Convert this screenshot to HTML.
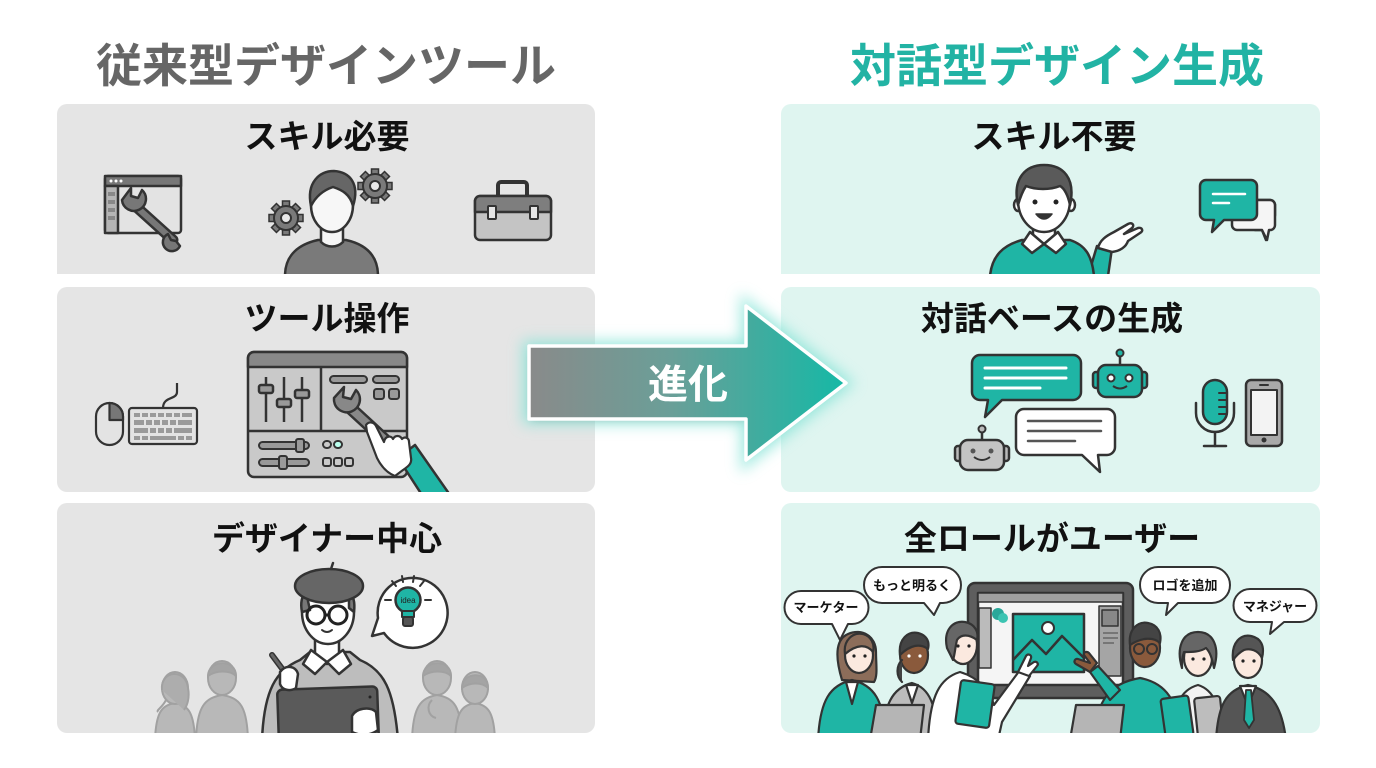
<!DOCTYPE html>
<html><head><meta charset="utf-8">
<style>
html,body{margin:0;padding:0;background:#fff;}
svg{display:block;}
text{font-family:"Liberation Sans","Noto Sans CJK JP",sans-serif;font-weight:700;}
</style></head><body>
<svg width="1376" height="768" viewBox="0 0 1376 768" xmlns="http://www.w3.org/2000/svg">
<defs>
<linearGradient id="ag" x1="527" y1="0" x2="848" y2="0" gradientUnits="userSpaceOnUse">
<stop offset="0" stop-color="#8a8a8a"/><stop offset="0.45" stop-color="#6a9f98"/><stop offset="1" stop-color="#14b9a6"/>
</linearGradient>
<filter id="glow" x="-30%" y="-40%" width="160%" height="180%"><feGaussianBlur stdDeviation="7"/></filter>
<filter id="soft" x="-30%" y="-40%" width="160%" height="180%"><feGaussianBlur stdDeviation="4"/></filter>
<g id="gear">
 <g fill="#7a7a7a" stroke="#333" stroke-width="1.5">
  <rect x="-3.5" y="-17" width="7" height="8"/>
  <rect x="-3.5" y="-17" width="7" height="8" transform="rotate(45)"/>
  <rect x="-3.5" y="-17" width="7" height="8" transform="rotate(90)"/>
  <rect x="-3.5" y="-17" width="7" height="8" transform="rotate(135)"/>
  <rect x="-3.5" y="-17" width="7" height="8" transform="rotate(180)"/>
  <rect x="-3.5" y="-17" width="7" height="8" transform="rotate(225)"/>
  <rect x="-3.5" y="-17" width="7" height="8" transform="rotate(270)"/>
  <rect x="-3.5" y="-17" width="7" height="8" transform="rotate(315)"/>
 </g>
 <circle r="12" fill="#7a7a7a" stroke="#333" stroke-width="2"/>
 <circle r="5" fill="#e8e8e8" stroke="#333" stroke-width="2"/>
</g>
<clipPath id="cl3"><rect x="57" y="503" width="538" height="230" rx="10"/></clipPath>
<clipPath id="cr3"><rect x="781" y="503" width="539" height="230" rx="10"/></clipPath>
<clipPath id="cl1"><rect x="57" y="104" width="538" height="170"/></clipPath>
<clipPath id="cr1"><rect x="781" y="104" width="539" height="170"/></clipPath>
<clipPath id="cl2"><rect x="57" y="287" width="538" height="205" rx="10"/></clipPath>
</defs>

<!-- Titles -->
<text x="326" y="82" font-size="46" fill="#666" text-anchor="middle">従来型デザインツール</text>
<text x="1057" y="82" font-size="46" fill="#22b3a4" text-anchor="middle">対話型デザイン生成</text>

<!-- Panels -->
<path d="M57,114 a10,10 0 0 1 10,-10 H585 a10,10 0 0 1 10,10 V274 H57 Z" fill="#e5e5e5"/>
<rect x="57" y="287" width="538" height="205" rx="10" fill="#e5e5e5"/>
<rect x="57" y="503" width="538" height="230" rx="10" fill="#e5e5e5"/>
<path d="M781,114 a10,10 0 0 1 10,-10 H1310 a10,10 0 0 1 10,10 V274 H781 Z" fill="#dff5f0"/>
<rect x="781" y="287" width="539" height="205" rx="10" fill="#dff5f0"/>
<rect x="781" y="503" width="539" height="230" rx="10" fill="#dff5f0"/>

<!-- Headings -->
<text x="327" y="148" font-size="33" fill="#111" text-anchor="middle">スキル必要</text>
<text x="327" y="330" font-size="33" fill="#111" text-anchor="middle">ツール操作</text>
<text x="327" y="550" font-size="33" fill="#111" text-anchor="middle">デザイナー中心</text>
<text x="1054" y="148" font-size="33" fill="#111" text-anchor="middle">スキル不要</text>
<text x="1052" y="330" font-size="33" fill="#111" text-anchor="middle">対話ベースの生成</text>
<text x="1052" y="550" font-size="33" fill="#111" text-anchor="middle">全ロールがユーザー</text>

<!-- ===== Panel 1 left ===== -->
<g stroke="#333" stroke-width="2.5" stroke-linejoin="round">
 <rect x="105" y="176" width="76" height="57" rx="3" fill="#e3e3e3"/>
 <rect x="105" y="176" width="76" height="10" fill="#777"/>
 <rect x="105" y="186" width="13" height="47" fill="#b5b5b5"/>
</g>
<g fill="#fff"><circle cx="111" cy="181" r="1.5"/><circle cx="116" cy="181" r="1.5"/><circle cx="121" cy="181" r="1.5"/></g>
<g fill="#888"><rect x="108" y="192" width="7" height="4"/><rect x="108" y="200" width="7" height="4"/><rect x="108" y="208" width="7" height="4"/><rect x="108" y="216" width="7" height="4"/></g>
<g>
 <path d="M132,203 L173,240" stroke="#333" stroke-width="11" stroke-linecap="round"/>
 <path d="M132,203 L173,240" stroke="#777" stroke-width="6" stroke-linecap="round"/>
 <path d="M122,200 a12,12 0 1 0 20,-10 l-4,8 l-7,-2 l0,-8 z" fill="#777" stroke="#333" stroke-width="2.5" stroke-linejoin="round"/>
 <path d="M180,246 a9,9 0 1 1 -12,-12 l3,6 l5,1 z" fill="#777" stroke="#333" stroke-width="2.5" stroke-linejoin="round"/>
</g>

<g clip-path="url(#cl1)">
 <use href="#gear" x="375" y="186"/>
 <use href="#gear" x="286" y="218"/>
 <path d="M285,276 C285,254 300,244 318,240 L346,240 C364,244 378,254 378,276 Z" fill="#7a7a7a" stroke="#333" stroke-width="2.5"/>
 <path d="M321,226 h22 v16 c-6,6 -16,6 -22,0 z" fill="#f5f5f5" stroke="#333" stroke-width="2.5"/>
 <ellipse cx="332" cy="205" rx="21" ry="27" fill="#f7f7f7" stroke="#333" stroke-width="2.5"/>
 <path d="M311,206 C306,182 320,171 334,171 C350,172 360,184 353,206 C350,194 342,190 333,187 C324,190 316,196 311,206 Z" fill="#666" stroke="#333" stroke-width="2.5" stroke-linejoin="round"/>
</g>

<g stroke="#333" stroke-linejoin="round">
 <rect x="498" y="182" width="29" height="18" rx="3" fill="none" stroke-width="4"/>
 <rect x="475" y="196" width="76" height="44" rx="5" fill="#c4c4c4" stroke-width="2.5"/>
 <path d="M475,212 V201 a5,5 0 0 1 5,-5 H546 a5,5 0 0 1 5,5 V212 Z" fill="#7e7e7e" stroke-width="2.5"/>
 <rect x="488" y="206" width="8" height="13" rx="1" fill="#e5e5e5" stroke-width="2"/>
 <rect x="530" y="206" width="8" height="13" rx="1" fill="#e5e5e5" stroke-width="2"/>
</g>

<!-- ===== Panel 2 left ===== -->
<g stroke="#333" stroke-width="2.2" stroke-linejoin="round">
 <rect x="96" y="403" width="27" height="42" rx="13.5" fill="#e3e3e3"/>
 <path d="M109.5,403 a13.5,13.5 0 0 1 13.5,13.5 V420 H109.5 Z" fill="#777"/>
 <path d="M163,408 c0,-12 14,-8 14,-16 v-9" fill="none"/>
 <rect x="129" y="408" width="68" height="36" rx="3" fill="#e3e3e3"/>
</g>
<g fill="#9a9a9a">
 <rect x="134" y="413" width="6" height="4"/><rect x="142" y="413" width="6" height="4"/><rect x="150" y="413" width="6" height="4"/><rect x="158" y="413" width="6" height="4"/><rect x="166" y="413" width="6" height="4"/><rect x="174" y="413" width="6" height="4"/><rect x="182" y="413" width="10" height="4"/>
 <rect x="134" y="420" width="10" height="5"/><rect x="146" y="420" width="6" height="5"/><rect x="154" y="420" width="6" height="5"/><rect x="162" y="420" width="6" height="5"/><rect x="170" y="420" width="6" height="5"/><rect x="178" y="420" width="14" height="5"/>
 <rect x="134" y="428" width="14" height="5"/><rect x="150" y="428" width="6" height="5"/><rect x="158" y="428" width="6" height="5"/><rect x="166" y="428" width="6" height="5"/><rect x="174" y="428" width="18" height="5"/>
 <rect x="134" y="436" width="6" height="4"/><rect x="142" y="436" width="6" height="4"/><rect x="150" y="436" width="26" height="4"/><rect x="178" y="436" width="6" height="4"/><rect x="186" y="436" width="6" height="4"/>
</g>

<g stroke="#333" stroke-width="2.5" stroke-linejoin="round">
 <rect x="248" y="352" width="159" height="125" rx="6" fill="#c9c9c9"/>
 <path d="M248,367 V358 a6,6 0 0 1 6,-6 H401 a6,6 0 0 1 6,6 V367 Z" fill="#888"/>
 <line x1="321" y1="367" x2="321" y2="431"/>
 <line x1="248" y1="431" x2="407" y2="431"/>
 <line x1="266" y1="377" x2="266" y2="422"/>
 <line x1="284" y1="377" x2="284" y2="422"/>
 <line x1="302" y1="377" x2="302" y2="422"/>
 <rect x="259" y="385" width="14" height="8" rx="2" fill="#999"/>
 <rect x="277" y="399" width="14" height="8" rx="2" fill="#999"/>
 <rect x="295" y="390" width="14" height="8" rx="2" fill="#999"/>
 <rect x="330" y="376" width="37" height="7" rx="3.5" fill="#999" stroke-width="2"/>
 <rect x="373" y="376" width="26" height="7" rx="3.5" fill="#999" stroke-width="2"/>
 <rect x="374" y="389" width="10" height="10" rx="2.5" fill="#999" stroke-width="2"/>
 <rect x="389" y="389" width="10" height="10" rx="2.5" fill="#999" stroke-width="2"/>
 <rect x="259" y="442" width="50" height="7" rx="3.5" fill="#999" stroke-width="2"/>
 <rect x="296" y="439" width="8" height="13" rx="2" fill="#999" stroke-width="2"/>
 <rect x="259" y="459" width="50" height="7" rx="3.5" fill="#999" stroke-width="2"/>
 <rect x="279" y="456" width="8" height="13" rx="2" fill="#999" stroke-width="2"/>
 <rect x="323" y="441" width="8" height="7" rx="3.5" fill="none" stroke-width="2"/>
 <rect x="334" y="441" width="8" height="7" rx="3.5" fill="#bfe" stroke-width="2"/>
 <rect x="323" y="458" width="8" height="8" rx="2" fill="none" stroke-width="2"/>
 <rect x="334" y="458" width="8" height="8" rx="2" fill="none" stroke-width="2"/>
 <rect x="345" y="458" width="8" height="8" rx="2" fill="none" stroke-width="2"/>
</g>
<path d="M347,405 L385,440" stroke="#333" stroke-width="13" stroke-linecap="round"/>
<path d="M347,405 L385,440" stroke="#888" stroke-width="8" stroke-linecap="round"/>
<path d="M334,398 a13,13 0 1 0 22,-8 l-5,9 l-8,-2 l1,-10 z" fill="#888" stroke="#333" stroke-width="2.5" stroke-linejoin="round"/>
<g clip-path="url(#cl2)">
 <path d="M398,458 L415,445 L450,495 L422,495 Z" fill="#1fb5a5" stroke="#333" stroke-width="2.5" stroke-linejoin="round"/>
 <path d="M366,425 c3,-4 8,-3 10,1 l8,16 c1,-6 7,-7 9,-3 c2,-4 7,-4 9,0 c3,-3 7,-1 7,3 l2,16 c1,5 -2,8 -8,12 l-8,6 c-8,-3 -14,-10 -18,-18 l-10,-26 z" fill="#fff" stroke="#333" stroke-width="2.2" stroke-linejoin="round"/>
</g>

<!-- ===== Arrow ===== -->
<polygon points="527,345 745,345 745,303 848,383 745,463 745,420 527,420" fill="#5fd6c6" stroke="#8ee6da" stroke-width="10" filter="url(#glow)" opacity="0.75"/>
<polygon points="532,352 745,352 745,420 532,420" fill="#555" opacity="0.25" filter="url(#soft)"/>
<polygon points="529,346 746,346 746,306 846,383 746,460 746,419 529,419" fill="url(#ag)" stroke="#fff" stroke-width="3.5" stroke-linejoin="round"/>
<text x="688" y="398" font-size="40" fill="#fff" text-anchor="middle">進化</text>

<!-- ===== Panel 1 right ===== -->
<g clip-path="url(#cr1)" stroke="#333" stroke-width="2.5" stroke-linejoin="round">
 <path d="M1088,276 L1097,246 L1112,248 L1108,276 Z" fill="#1fb5a5"/>
 <path d="M1098,248 c2,-8 8,-12 16,-16 l14,-8 c4,-2 7,1 4,4 l-8,6 l14,-6 c4,-1 6,3 2,5 l-12,8 c-2,6 -8,10 -16,11 Z" fill="#fff"/>
 <path d="M990,276 C992,255 1004,245 1022,240 L1070,240 C1085,245 1092,255 1094,276 Z" fill="#1fb5a5"/>
 <path d="M1033,226 h22 v10 l-11,8 l-11,-8 z" fill="#fff"/>
 <path d="M1044,244 l-14,-12 l-8,12 l10,9 z M1044,244 l14,-12 l8,12 l-10,9 z" fill="#fff"/>
 <ellipse cx="1018" cy="205" rx="4" ry="6" fill="#fff"/>
 <ellipse cx="1071" cy="205" rx="4" ry="6" fill="#fff"/>
 <ellipse cx="1044" cy="200" rx="26" ry="32" fill="#fff"/>
 <path d="M1018,205 C1012,178 1026,165 1044,165 C1063,165 1076,178 1070,205 C1068,195 1064,188 1060,186 C1050,190 1036,190 1026,186 C1022,192 1020,198 1018,205 Z" fill="#5a5a5a"/>
 <path d="M1036,214 q8,10 16,0 z" fill="#333" stroke-width="1.5"/>
</g>
<circle cx="1035" cy="202" r="2.5" fill="#222"/><circle cx="1056" cy="202" r="2.5" fill="#222"/>

<g stroke="#333" stroke-width="2.5" stroke-linejoin="round">
 <path d="M1240,220 H1270 a5,5 0 0 0 5,-5 V205 a5,5 0 0 0 -5,-5 H1255 V230 H1262 L1266,240 L1268,230 H1270" fill="#f5f5f5"/>
 <path d="M1232,215 V225 a5,5 0 0 0 5,5 H1262 L1267,240 L1269,230 H1271 a5,5 0 0 0 4,-5 V205 a5,5 0 0 0 -5,-5 H1250" fill="#f5f5f5"/>
 <path d="M1206,180 H1251 a6,6 0 0 1 6,6 V214 a6,6 0 0 1 -6,6 H1224 L1212,232 L1214,220 H1206 a6,6 0 0 1 -6,-6 V186 a6,6 0 0 1 6,-6 Z" fill="#1fb5a5"/>
</g>
<g stroke="#fff" stroke-width="2.5" stroke-linecap="round"><line x1="1213" y1="194" x2="1245" y2="194"/><line x1="1213" y1="203" x2="1229" y2="203"/></g>

<!-- ===== Panel 2 right ===== -->
<g stroke="#333" stroke-width="2.5" stroke-linejoin="round">
 <path d="M980,355 H1073 a8,8 0 0 1 8,8 V392 a8,8 0 0 1 -8,8 H1002 L985,417 L988,400 H980 a8,8 0 0 1 -8,-8 V363 a8,8 0 0 1 8,-8 Z" fill="#1fb5a5"/>
 <path d="M1024,409 H1107 a8,8 0 0 1 8,8 V447 a8,8 0 0 1 -8,8 H1098 L1100,472 L1082,455 H1024 a8,8 0 0 1 -8,-8 V417 a8,8 0 0 1 8,-8 Z" fill="#fff"/>
 <line x1="1120" y1="365" x2="1120" y2="356"/>
 <circle cx="1120" cy="353" r="3.5" fill="#1fb5a5" stroke-width="2"/>
 <rect x="1093" y="372" width="7" height="16" rx="3" fill="#1fb5a5"/>
 <rect x="1140" y="372" width="7" height="16" rx="3" fill="#1fb5a5"/>
 <rect x="1098" y="365" width="44" height="32" rx="8" fill="#1fb5a5"/>
 <circle cx="1111" cy="378" r="3.5" fill="#fff" stroke-width="2"/>
 <circle cx="1129" cy="378" r="3.5" fill="#fff" stroke-width="2"/>
 <path d="M1113,386 q7,5 14,0" fill="none" stroke-width="2"/>
 <line x1="982" y1="440" x2="982" y2="432"/>
 <circle cx="982" cy="429" r="3.5" fill="#bbb" stroke-width="2"/>
 <rect x="955" y="446" width="7" height="15" rx="3" fill="#bbb"/>
 <rect x="1002" y="446" width="7" height="15" rx="3" fill="#bbb"/>
 <rect x="960" y="440" width="44" height="30" rx="8" fill="#c4c4c4"/>
 <path d="M974,457 q8,6 16,0" fill="none" stroke-width="2"/>
</g>
<g fill="#555"><circle cx="973" cy="451" r="2.5"/><circle cx="991" cy="451" r="2.5"/></g>
<g stroke="#fff" stroke-width="3" stroke-linecap="round"><line x1="985" y1="368" x2="1066" y2="368"/><line x1="985" y1="378" x2="1066" y2="378"/><line x1="985" y1="388" x2="1040" y2="388"/></g>
<g stroke="#555" stroke-width="2.5" stroke-linecap="round"><line x1="1028" y1="421" x2="1101" y2="421"/><line x1="1028" y1="431" x2="1101" y2="431"/><line x1="1028" y1="441" x2="1075" y2="441"/></g>

<g stroke="#333" stroke-width="2.5" stroke-linejoin="round" stroke-linecap="round">
 <path d="M1196,403 V413 a19,19 0 0 0 38,0 V403" fill="none"/>
 <line x1="1215" y1="432" x2="1215" y2="446"/>
 <line x1="1204" y1="446" x2="1226" y2="446"/>
 <rect x="1203" y="380" width="24" height="44" rx="12" fill="#1fb5a5"/>
 <line x1="1219" y1="393" x2="1226" y2="393" stroke-width="2"/>
 <line x1="1219" y1="400" x2="1226" y2="400" stroke-width="2"/>
 <line x1="1219" y1="407" x2="1226" y2="407" stroke-width="2"/>
 <line x1="1219" y1="414" x2="1226" y2="414" stroke-width="2"/>
 <rect x="1246" y="380" width="36" height="66" rx="5" fill="#a9a9a9"/>
 <rect x="1251" y="390" width="26" height="45" fill="#f3f3f3" stroke-width="2"/>
 <line x1="1260" y1="385" x2="1268" y2="385" stroke-width="2"/>
</g>
<circle cx="1264" cy="440" r="2.5" fill="#333"/>

<!-- ===== Panel 3 left ===== -->
<g clip-path="url(#cl3)">
 <g fill="#b4b4b4" stroke="#9a9a9a" stroke-width="2" opacity="0.9">
  <path d="M155,740 C156,712 162,705 175,703 C188,705 194,712 195,740 Z"/>
  <ellipse cx="175" cy="688" rx="13" ry="16"/>
  <path d="M162,690 c-2,-20 24,-22 26,-2 c2,10 -1,18 -4,22 M166,700 c-4,8 -10,10 -8,12" fill="#a8a8a8"/>
  <path d="M196,740 C197,706 205,698 222,695 C240,698 247,706 248,740 Z"/>
  <ellipse cx="222" cy="678" rx="14" ry="17"/>
  <path d="M208,676 c0,-16 28,-18 28,0 c-6,-6 -20,-6 -28,0 z" fill="#9e9e9e"/>
  <path d="M412,740 C413,706 421,698 437,695 C454,698 461,706 462,740 Z"/>
  <ellipse cx="437" cy="678" rx="14" ry="17"/>
  <path d="M423,676 c0,-16 28,-18 28,0 c-6,-6 -20,-6 -28,0 z" fill="#9e9e9e"/>
  <path d="M432,700 c-6,6 -4,16 4,18" fill="none"/>
  <path d="M455,740 C456,712 462,705 475,703 C488,705 494,712 495,740 Z"/>
  <ellipse cx="475" cy="688" rx="13" ry="16"/>
  <path d="M462,688 c0,-16 26,-18 26,0 c-6,-6 -18,-6 -26,0 z" fill="#9e9e9e"/>
 </g>
 <g stroke="#333" stroke-width="2.5" stroke-linejoin="round" stroke-linecap="round">
  <path d="M262,740 C264,690 276,670 300,660 L310,652 L350,652 L360,660 C384,670 394,690 398,740 Z" fill="#bdbdbd"/>
  <path d="M315,640 h24 v14 l-12,10 l-12,-10 z" fill="#fff"/>
  <path d="M327,662 l-16,-12 l-8,14 l12,10 z M327,662 l16,-12 l8,14 l-12,10 z" fill="#fff"/>
  <ellipse cx="328" cy="612" rx="26" ry="32" fill="#fff"/>
  <path d="M302,612 c-2,-10 0,-16 4,-20 l4,18 z" fill="#777"/>
  <path d="M349,592 c5,4 6,12 5,20 l-5,-4 z" fill="#777"/>
  <ellipse cx="329" cy="586" rx="34" ry="17" fill="#666"/>
  <line x1="331" y1="569" x2="333" y2="563"/>
  <circle cx="316" cy="615" r="9" fill="none" stroke="#222" stroke-width="3"/>
  <circle cx="338" cy="615" r="9" fill="none" stroke="#222" stroke-width="3"/>
  <line x1="325" y1="615" x2="329" y2="615" stroke="#222" stroke-width="3"/>
  <path d="M322,630 q5,4 10,0" fill="none" stroke-width="2"/>
  <line x1="272" y1="655" x2="292" y2="682" stroke-width="6" stroke="#333"/>
  <line x1="272" y1="655" x2="292" y2="682" stroke-width="3" stroke="#666"/>
  <rect x="278" y="688" width="100" height="52" rx="5" fill="#5a5a5a" transform="rotate(-2 328 714)"/>
  <path d="M280,672 c6,-8 16,-6 18,2 l-2,14 c-6,4 -14,2 -16,-4 z" fill="#fff"/>
  <path d="M352,716 c4,-8 18,-10 24,-4 l2,18 c-8,6 -18,6 -26,2 z" fill="#fff"/>
 </g>
 <circle cx="370" cy="697" r="1.5" fill="#222"/>
</g>
<g stroke="#333" stroke-width="2.5" stroke-linejoin="round">
 <path d="M384,633 A35,35 0 1 0 378,618 L372,636 Z" fill="#fff"/>
 <circle cx="408" cy="600" r="12.5" fill="#1fb5a5"/>
 <path d="M402,611 h12 v6 h-12 z" fill="#1fb5a5" stroke-width="2"/>
 <rect x="403" y="617" width="10" height="9" rx="2" fill="#555" stroke-width="2"/>
</g>
<text x="408" y="603" font-size="8" fill="#222" text-anchor="middle" style="font-weight:400">idea</text>
<g stroke="#333" stroke-width="2" stroke-linecap="round">
 <line x1="391" y1="600" x2="385" y2="600"/><line x1="425" y1="600" x2="431" y2="600"/>
 <line x1="396" y1="586" x2="392" y2="581"/><line x1="420" y1="586" x2="424" y2="581"/>
 <line x1="403" y1="582" x2="402" y2="576"/><line x1="413" y1="582" x2="414" y2="576"/>
</g>

<!-- ===== Panel 3 right ===== -->
<g clip-path="url(#cr3)">
 <g stroke="#333" stroke-width="2.5" stroke-linejoin="round">
  <rect x="968" y="583" width="165" height="115" rx="7" fill="#5e5e5e"/>
  <rect x="978" y="593" width="145" height="92" fill="#f5f5f5"/>
  <rect x="978" y="593" width="145" height="9" fill="#a0a0a0" stroke-width="1.5"/>
  <rect x="979" y="608" width="12" height="60" fill="#bbb" stroke-width="1.5"/>
  <rect x="1099" y="606" width="22" height="70" fill="#a5a5a5" stroke-width="1.5"/>
  <rect x="1102" y="610" width="16" height="16" fill="#888" stroke-width="1.5"/>
  <rect x="1013" y="614" width="71" height="58" fill="#1fb5a5"/>
  <polyline points="1013,660 1032,640 1046,654 1062,636 1084,658" fill="none"/>
  <circle cx="1048" cy="628" r="6" fill="#fff" stroke-width="2"/>
 </g>
 <g stroke="#666" stroke-width="1.5"><line x1="1103" y1="633" x2="1118" y2="633"/><line x1="1103" y1="638" x2="1118" y2="638"/><line x1="1103" y1="643" x2="1114" y2="643"/></g>
 <circle cx="998" cy="614" r="6" fill="#2aa89a"/><circle cx="1003" cy="618" r="5" fill="#3cc4b2"/>

 <g stroke="#333" stroke-width="2.2" stroke-linejoin="round" stroke-linecap="round">
  <!-- P1 -->
  <path d="M842,680 c-6,-20 -8,-40 6,-46 c14,-6 28,2 28,18 c0,12 2,24 -2,30 z" fill="#8c6d5a"/>
  <path d="M818,740 C820,700 830,685 852,680 C874,685 884,700 886,740 Z" fill="#1fb5a5"/>
  <path d="M846,682 l6,22 l6,-22 z" fill="#fff"/>
  <ellipse cx="859" cy="655" rx="14" ry="18" fill="#fbe9df"/>
  <path d="M845,654 c-2,-14 8,-22 18,-20 c8,2 12,10 10,18 c-6,-8 -16,-8 -28,2 z" fill="#8c6d5a"/>
  <!-- P2 -->
  <path d="M882,740 C884,705 892,688 912,683 C930,688 936,705 938,740 Z" fill="#bcbcbc"/>
  <path d="M906,685 l6,18 l6,-18 z" fill="#fff"/>
  <ellipse cx="914" cy="655" rx="14" ry="18" fill="#8a5a3c"/>
  <path d="M900,655 c-2,-16 8,-24 18,-22 c8,2 12,8 10,16 c-8,-6 -18,-4 -28,6 z M902,660 c-6,6 -6,16 0,22" fill="#444"/>
  <!-- Laptop 1 -->
  <path d="M876,705 h48 l-4,35 h-50 z" fill="#b5b5b5"/>
  <!-- P3 -->
  <path d="M928,740 C930,695 940,678 960,672 C980,678 990,692 994,705 L1020,670 L1030,676 L1002,722 L998,740 Z" fill="#fff"/>
  <ellipse cx="963" cy="645" rx="14" ry="19" fill="#fbe9df"/>
  <path d="M947,648 c-4,-18 6,-28 18,-26 c10,2 14,10 12,18 c-8,-6 -16,-6 -20,0 c-2,8 -2,14 -4,20 z" fill="#666"/>
  <rect x="958" y="682" width="34" height="44" rx="3" fill="#1fb5a5" transform="rotate(8 975 704)"/>
  <path d="M1018,672 l8,-16 c2,-3 6,-1 5,2 l-3,8 l6,-4 c3,-1 5,2 3,4 l-8,10 z" fill="#fff"/>
  <!-- P4 -->
  <path d="M1094,740 C1096,700 1110,683 1140,678 C1166,683 1178,700 1182,740 Z" fill="#1fb5a5"/>
  <path d="M1110,700 L1090,672 L1098,666 L1120,690 Z" fill="#1fb5a5"/>
  <path d="M1090,672 l-14,-8 c-3,-2 -1,-6 2,-5 l12,4 l-6,-8 c-1,-3 3,-4 5,-2 l8,10 z" fill="#8a5a3c"/>
  <ellipse cx="1145" cy="648" rx="15" ry="19" fill="#8a5a3c"/>
  <path d="M1130,645 c-2,-16 8,-24 18,-22 c10,2 14,10 12,20 c-6,-6 -18,-6 -30,2 z" fill="#444"/>
  <circle cx="1139" cy="649" r="5" fill="none" stroke-width="2"/><circle cx="1152" cy="649" r="5" fill="none" stroke-width="2"/>
  <path d="M1076,705 h48 l-4,35 h-50 z" fill="#b5b5b5"/>
  <!-- P5 -->
  <path d="M1172,740 C1174,705 1180,690 1198,685 C1214,690 1220,705 1222,740 Z" fill="#f2f2f2"/>
  <ellipse cx="1198" cy="658" rx="14" ry="18" fill="#fbe9df"/>
  <path d="M1182,668 c-6,-20 0,-36 16,-36 c16,0 22,16 16,36 c-2,-10 -4,-16 -8,-20 c-6,4 -14,4 -22,4 c-2,6 -2,10 -2,16 z" fill="#666"/>
  <rect x="1163" y="697" width="28" height="40" rx="3" fill="#1fb5a5" transform="rotate(-8 1177 717)"/>
  <rect x="1196" y="697" width="26" height="40" rx="3" fill="#bdbdbd" transform="rotate(-6 1209 717)"/>
  <!-- P6 -->
  <path d="M1216,740 C1218,705 1226,690 1248,685 C1270,690 1282,705 1286,740 Z" fill="#555"/>
  <path d="M1240,686 l8,20 l8,-20 z" fill="#fff"/>
  <path d="M1246,690 h5 l3,30 l-5,8 l-5,-8 z" fill="#1fb5a5" stroke-width="1.8"/>
  <ellipse cx="1248" cy="660" rx="14" ry="18" fill="#fbe9df"/>
  <path d="M1233,660 c-2,-18 8,-26 18,-24 c10,2 14,10 11,22 c-4,-8 -12,-10 -18,-8 c-4,2 -8,6 -11,10 z" fill="#555"/>
 </g>
 <g fill="#222">
  <circle cx="854" cy="656" r="1.6"/><circle cx="865" cy="656" r="1.6"/>
  <circle cx="958" cy="646" r="1.6"/><circle cx="969" cy="646" r="1.6"/>
  <circle cx="1193" cy="659" r="1.6"/><circle cx="1204" cy="659" r="1.6"/>
  <circle cx="1243" cy="661" r="1.6"/><circle cx="1254" cy="661" r="1.6"/>
 </g>
 <g fill="#fff"><circle cx="909" cy="656" r="1.6"/><circle cx="920" cy="656" r="1.6"/></g>
</g>

<!-- speech bubbles -->
<g stroke="#333" stroke-width="2" stroke-linejoin="round" fill="#fff">
 <path d="M801,591 H852 a16,16 0 0 1 0,33 H848 L840,640 L832,624 H801 a16,16 0 0 1 0,-33 Z"/>
 <path d="M882,567 H943 a18,18 0 0 1 0,36 H940 L934,615 L924,603 H882 a18,18 0 0 1 0,-36 Z"/>
 <path d="M1158,567 H1212 a18,18 0 0 1 0,36 H1178 L1166,615 L1168,603 H1158 a18,18 0 0 1 0,-36 Z"/>
 <path d="M1250,589 H1300 a16,16 0 0 1 0,33 H1284 L1270,634 L1272,622 H1250 a16,16 0 0 1 0,-33 Z"/>
</g>
<g font-size="13" fill="#111" text-anchor="middle">
 <text x="826" y="612">マーケター</text>
 <text x="912" y="590">もっと明るく</text>
 <text x="1185" y="590">ロゴを追加</text>
 <text x="1275" y="611">マネジャー</text>
</g>
</svg>
</body></html>
